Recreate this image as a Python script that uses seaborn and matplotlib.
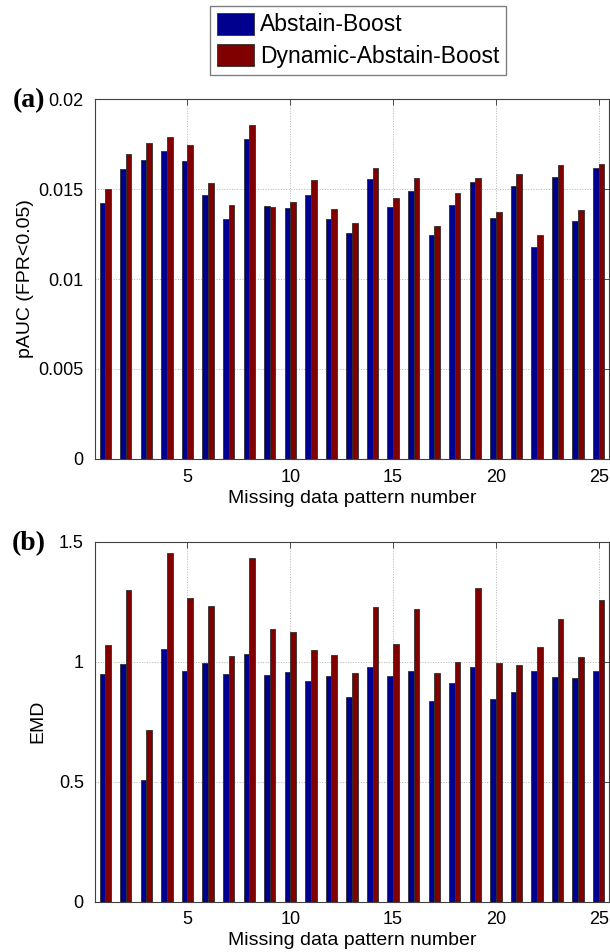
import pandas as pd
import matplotlib
matplotlib.use("Agg")
import matplotlib.pyplot as plt
from matplotlib.patches import Patch
from matplotlib.ticker import FuncFormatter
import seaborn as sns

# data
patterns = list(range(1, 26))
methods = ["Abstain-Boost", "Dynamic-Abstain-Boost"]
pauc_abstain = [0.01424, 0.01611, 0.01661, 0.01711, 0.01654, 0.01469, 0.01335, 0.01778, 0.01407, 0.01396,
                0.01465, 0.01333, 0.01254, 0.01554, 0.01402, 0.01489, 0.01246, 0.01411, 0.01537, 0.01339,
                0.01515, 0.01178, 0.01567, 0.01320, 0.01615]
pauc_dynamic = [0.01500, 0.01693, 0.01756, 0.01787, 0.01744, 0.01531, 0.01409, 0.01856, 0.01400, 0.01428,
                0.01548, 0.01391, 0.01313, 0.01615, 0.01448, 0.01559, 0.01296, 0.01476, 0.01561, 0.01374,
                0.01585, 0.01243, 0.01633, 0.01381, 0.01641]
emd_abstain = [0.949, 0.990, 0.506, 1.052, 0.960, 0.995, 0.949, 1.030, 0.945, 0.956,
               0.918, 0.940, 0.853, 0.976, 0.940, 0.963, 0.835, 0.912, 0.978, 0.843,
               0.872, 0.960, 0.934, 0.930, 0.963]
emd_dynamic = [1.069, 1.299, 0.716, 1.453, 1.265, 1.230, 1.024, 1.432, 1.138, 1.124,
               1.048, 1.027, 0.953, 1.228, 1.074, 1.219, 0.953, 0.997, 1.306, 0.995,
               0.987, 1.060, 1.176, 1.018, 1.255]

colors = ["#00008f", "#800000"]

df = pd.DataFrame({
    "pattern": patterns * 2,
    "method": [methods[0]] * 25 + [methods[1]] * 25,
    "pAUC": pauc_abstain + pauc_dynamic,
    "EMD": emd_abstain + emd_dynamic,
})

sns.set_theme(style="white")
plt.rcParams["font.family"] = ["Liberation Sans", "DejaVu Sans"]
plt.rcParams["text.color"] = "black"
plt.rcParams["axes.labelcolor"] = "black"

fig = plt.figure(figsize=(6.1, 9.52), dpi=100)
ax1 = fig.add_axes([0.1557, 0.5179, 0.8426, 0.378])
ax2 = fig.add_axes([0.1557, 0.0530, 0.8426, 0.378])

panels = [
    (ax1, "pAUC", "pAUC (FPR<0.05)", [0, 0.005, 0.01, 0.015, 0.02], "(a)", -0.119),
    (ax2, "EMD", "EMD", [0, 0.5, 1, 1.5], "(b)", -0.095),
]

for ax, col, ylab, yticks, tag, ylab_x in panels:
    sns.barplot(data=df, x="pattern", y=col, hue="method", palette=colors,
                saturation=1, native_scale=True, width=0.55, errorbar=None,
                legend=False, edgecolor="#303030", linewidth=0.6, ax=ax)
    ax.set_xlim(0.5, 25.5)
    ax.set_ylim(yticks[0], yticks[-1])
    ax.set_xticks([5, 10, 15, 20, 25])
    ax.set_yticks(yticks)
    ax.yaxis.set_major_formatter(FuncFormatter(lambda v, p: f"{v:g}"))
    ax.grid(True, linestyle=":", color="#b4b4b4", linewidth=0.7)
    ax.set_axisbelow(True)
    ax.tick_params(direction="in", top=True, right=True, length=4, width=0.6,
                   color="#333333", labelsize=13, labelcolor="black")
    ax.tick_params(axis="x", pad=7)
    ax.tick_params(axis="y", pad=8)
    for s in ax.spines.values():
        s.set_visible(True)
        s.set_color("#404040")
        s.set_linewidth(0.8)
    ax.set_xlabel("Missing data pattern number", fontsize=14, labelpad=3)
    ax.set_ylabel(ylab, fontsize=14)
    ax.yaxis.set_label_coords(ylab_x, 0.5)
    ax.text(-0.128, 0.995, tag, transform=ax.transAxes, ha="center", va="center",
            fontsize=20, fontweight="bold", family="Liberation Serif", color="black")

handles = [Patch(facecolor=c, edgecolor="#303030", linewidth=0.6) for c in colors]
fig.legend(handles, methods, loc="center", bbox_to_anchor=(0.587, 0.9575),
           fontsize=16.5, frameon=True, fancybox=False, framealpha=1,
           edgecolor="#808080", handlelength=1.65, handleheight=1.1,
           handletextpad=0.25, labelspacing=0.35, borderpad=0.3)

fig.savefig("out.png", dpi=100)
